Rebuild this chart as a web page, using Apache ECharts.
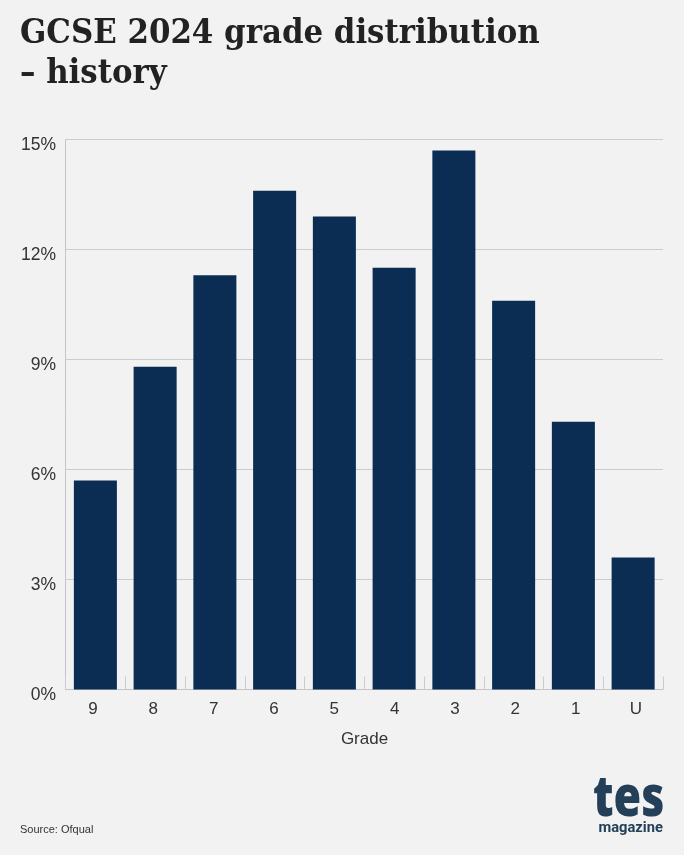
<!DOCTYPE html>
<html><head><meta charset="utf-8">
<script src="https://cdn.jsdelivr.net/npm/echarts@6/dist/echarts.min.js"></script>
<style>html,body{margin:0;padding:0;background:#f2f2f3}#c{width:684px;height:855px}</style>
</head><body><div id="c"></div>
<script>
const grades = ['9','8','7','6','5','4','3','2','1','U'];
const shares = [5.7,8.8,11.3,13.6,12.9,11.5,14.7,10.6,7.3,3.6];
const yTicks = {min:0,max:15,interval:3};
const titleText = 'GCSE 2024 grade distribution\n– history';
const sourceText = 'Source: Ofqual';
const chart = echarts.init(document.getElementById('c'),null,{renderer:'canvas'});
chart.setOption({
  backgroundColor:'#f2f2f3',
  animation:false,
  title:{text:titleText,left:20,top:14,padding:0,itemGap:0,
    textStyle:{fontFamily:'DejaVu Serif Condensed, DejaVu Serif',fontWeight:'bold',fontSize:34.3,lineHeight:40,color:'#222222'}},
  grid:[
    {left:65.5,right:21,top:139.5,bottom:165.5},
    {left:62.85,right:17.85,top:139.5,bottom:165.5}
  ],
  xAxis:[
    {type:'category',gridIndex:0,data:grades,
    axisLine:{show:true,lineStyle:{color:'#c4c4c4',width:1}},
    axisTick:{show:true,inside:true,length:13,alignWithLabel:false,lineStyle:{color:'#cccccc',width:1}},
    axisLabel:{show:false}},
    {type:'category',gridIndex:1,data:grades,name:'Grade',nameLocation:'middle',nameGap:41,
    nameTextStyle:{fontFamily:'Liberation Sans',fontSize:17,color:'#333333'},
    axisLine:{show:false},axisTick:{show:false},
    axisLabel:{fontFamily:'Liberation Sans',fontSize:17,color:'#333333',margin:11.5}}
  ],
  yAxis:[
    {type:'value',gridIndex:0,...yTicks,
    axisLine:{show:true,lineStyle:{color:'#c4c4c4',width:1}},
    axisTick:{show:false},
    splitLine:{show:true,lineStyle:{color:'#cccccc',width:1}},
    axisLabel:{formatter:'{value}%',fontFamily:'Liberation Sans',fontSize:17.5,color:'#333333',margin:9.5,verticalAlign:'top',lineHeight:12}},
    {type:'value',gridIndex:1,...yTicks,show:false}
  ],
  series:[{type:'bar',data:shares,barWidth:'72%',itemStyle:{color:'#0b2d54'},silent:true}],
  graphic:[
    {type:'text',left:20,top:824,style:{text:sourceText,font:'11px "Liberation Sans"',fill:'#333333'}},
    {type:'text',x:593,y:772,scaleX:0.8,style:{text:'tes',font:'900 56px "Open Sans"',fill:'#234058'}},
    {type:'text',x:598.5,y:821,scaleX:0.98,style:{text:'magazine',font:'bold 15px "Roboto"',fill:'#234058'}}
  ]
});
</script></body></html>
